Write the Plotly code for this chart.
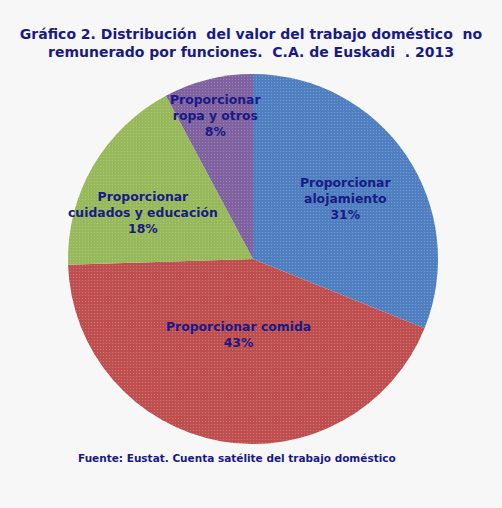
import plotly.graph_objects as go

# data (shares in %)
funciones = [
    "Proporcionar alojamiento",
    "Proporcionar comida",
    "Proporcionar cuidados y educación",
    "Proporcionar ropa y otros",
]
valores = [31.1, 43.4, 17.7, 7.8]
etiquetas = [
    "Proporcionar<br>alojamiento",
    "Proporcionar comida",
    "Proporcionar<br>cuidados y educación",
    "Proporcionar<br>ropa y otros",
]
colores = ["#4F7FC0", "#BF4F4F", "#98B95A", "#8062A0"]

W, H = 502, 508
NAVY = "#1A1A86"
FONT = "DejaVu Sans"

fig = go.Figure()
fig.add_trace(go.Pie(
    labels=funciones,
    values=valores,
    sort=False,
    direction="clockwise",
    rotation=0,
    marker=dict(
        colors=colores,
        line=dict(width=0),
        pattern=dict(shape=".", size=3, solidity=0.12,
                     fgcolor="rgba(220,230,240,0.6)", fillmode="overlay"),
    ),
    textinfo="none",
    hoverinfo="label+percent",
    showlegend=False,
    domain=dict(x=[68 / W, 438 / W], y=[(H - 444) / H, (H - 74) / H]),
))

# label placement (pixel centres)
pos = [(345, 198), (238, 334), (143, 213), (215, 115)]
total = sum(valores)
for txt, v, (px, py) in zip(etiquetas, valores, pos):
    fig.add_annotation(
        x=px / W, y=1 - py / H, xref="paper", yref="paper",
        text=f"<b>{txt}<br>{round(v / total * 100)}%</b>",
        showarrow=False, xanchor="center", yanchor="middle",
        font=dict(family=FONT, size=12.4, color=NAVY),
    )

fig.add_annotation(
    x=237 / W, y=1 - 458 / H, xref="paper", yref="paper",
    text="<b>Fuente: Eustat. Cuenta satélite del trabajo doméstico</b>",
    showarrow=False, xanchor="center", yanchor="middle",
    font=dict(family=FONT, size=10.5, color=NAVY),
)

fig.update_layout(
    width=W, height=H,
    title=dict(
        text="<b>Gráfico 2. Distribución  del valor del trabajo doméstico  no<br>"
             "remunerado por funciones.  C.A. de Euskadi  . 2013</b>",
        x=0.5, xanchor="center", y=1 - 39 / H, yanchor="middle",
        font=dict(family=FONT, size=14, color=NAVY),
    ),
    paper_bgcolor="#F7F7F7",
    plot_bgcolor="#F7F7F7",
    margin=dict(l=0, r=0, t=0, b=0),
)

# drop the browser's default body margin so the figure sits at (0, 0)
fig.write_html("out.html", config={"displayModeBar": False},
               post_script="document.body.style.margin='0';")
